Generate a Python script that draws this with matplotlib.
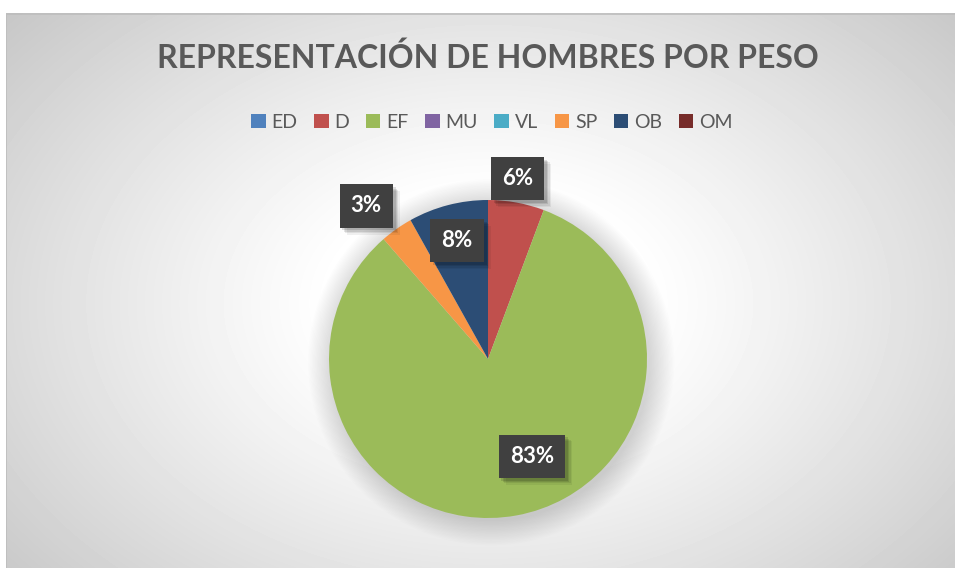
import numpy as np
import matplotlib.pyplot as plt
import matplotlib.patheffects as pe
from matplotlib.patches import Circle

plt.rcParams['font.family'] = ['Lato', 'DejaVu Sans']

# datos del gráfico
categorias = ['ED', 'D', 'EF', 'MU', 'VL', 'SP', 'OB', 'OM']
valores = [0, 5.7, 82.9, 0, 0, 3.3, 8.1, 0]
colores = ['#4f81bd', '#c0504d', '#9bbb59', '#8064a2', '#4bacc6', '#f79646', '#2c4d75', '#772c2a']
titulo = 'REPRESENTACIÓN DE HOMBRES POR PESO'

# posición de las etiquetas (distancia radial, desplazamiento angular)
etq_dist = {'D': 1.15, 'EF': 0.67, 'SP': 1.23, 'OB': 0.77}
etq_giro = {'D': -1.0, 'EF': -14.0, 'SP': -3.4, 'OB': 0.0}

W, H = 955, 568
fig = plt.figure(figsize=(W / 100, H / 100), dpi=100)
fig.patch.set_facecolor('white')

# fondo con degradado radial
bg = fig.add_axes([6 / W, 0, 1 - 6 / W, 1 - 13 / H])
yy, xx = np.mgrid[0:555, 0:949]
cx, cy = 482, 290
d = np.sqrt(((xx - cx) / 520.0) ** 2 + ((yy - cy) / 360.0) ** 2)
v = 1.0 - 0.24 * np.clip((d - 0.3) / 1.0, 0, 1) ** 1.1
bg.imshow(v, cmap='gray', vmin=0, vmax=1, aspect='auto', extent=[0, 949, 555, 0])
bg.set_xlim(0, 949)
bg.set_ylim(555, 0)
bg.axis('off')
bg.plot([0, 0, 949], [555, 0.5, 0.5], color='#bdbdbd', lw=1.2)

# pastel
r_px = 159
half = 1.3
ax = fig.add_axes([(488 - half * r_px) / W, (H - 359 - half * r_px) / H,
                   2 * half * r_px / W, 2 * half * r_px / H])
ax.set_facecolor('none')

# sombra suave del pastel
for k in range(20):
    ax.add_patch(Circle((0.02, -0.02), 1.0 + 0.008 * k, color='black', alpha=0.009, lw=0, zorder=0))

wedges, _ = ax.pie(valores, colors=colores, startangle=90, counterclock=False,
                   wedgeprops=dict(linewidth=0))
ax.set_xlim(-half, half)
ax.set_ylim(-half, half)
ax.set_aspect('equal')
ax.axis('off')

total = sum(valores)
for cat, val, w in zip(categorias, valores, wedges):
    if val == 0:
        continue
    ang = np.deg2rad((w.theta1 + w.theta2) / 2 - etq_giro[cat])
    rr = etq_dist[cat]
    t = ax.text(rr * np.cos(ang), rr * np.sin(ang), f'{val / total * 100:.0f}%',
                ha='center', va='center', color='white', fontsize=16, fontweight='bold',
                zorder=5,
                bbox=dict(boxstyle='square,pad=0.5', facecolor='#404040',
                          edgecolor='none', linewidth=0))
    t.get_bbox_patch().set_path_effects([
        pe.SimplePatchShadow(offset=(5, -5), shadow_rgbFace='black', alpha=0.06),
        pe.SimplePatchShadow(offset=(4, -4), shadow_rgbFace='black', alpha=0.08),
        pe.SimplePatchShadow(offset=(3, -3), shadow_rgbFace='black', alpha=0.1),
        pe.SimplePatchShadow(offset=(2, -2), shadow_rgbFace='black', alpha=0.12),
        pe.Normal()])

# título y leyenda
fig.text(488 / W, 1 - 58 / H, titulo, ha='center', va='center', fontsize=23,
         fontweight='bold', color='#595959')
leg = fig.legend(wedges, categorias, loc='center', bbox_to_anchor=(492 / W, 1 - 122 / H),
                 ncol=8, frameon=False, fontsize=14, handlelength=0.75, handleheight=0.75,
                 handletextpad=0.3, columnspacing=0.85)
for txt in leg.get_texts():
    txt.set_color('#595959')

fig.savefig('out.png', dpi=100)
